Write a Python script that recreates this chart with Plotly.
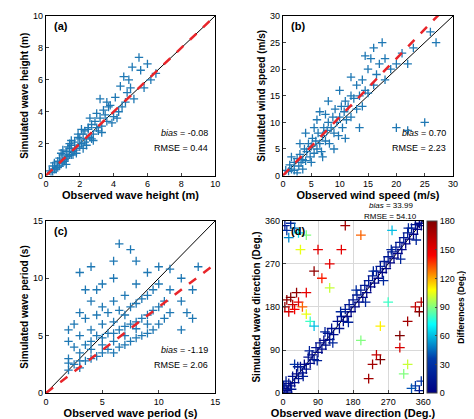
import plotly.graph_objects as go

a_points = [(0.2,0.3),(0.3,0.2),(0.4,0.6),(0.5,0.4),(0.5,0.8),(0.6,0.5),(0.7,0.9),(0.8,0.6),(0.8,1.1),(0.9,0.8),
(1.0,1.3),(1.0,0.8),(1.1,1.0),(1.2,1.5),(1.2,1.1),(1.3,1.2),(1.4,1.7),(1.4,1.3),(1.5,1.9),(1.5,1.3),
(1.6,1.5),(1.7,2.1),(1.7,1.6),(1.8,1.7),(1.9,2.4),(2.0,1.8),(2.0,2.3),(2.1,2.0),(2.2,2.6),(2.3,2.1),
(2.3,2.8),(2.4,2.3),(2.5,2.9),(2.6,2.4),(2.7,3.2),(2.8,2.6),(2.9,3.4),(3.0,3.0),(3.1,2.8),(3.2,3.6),
(3.3,3.1),(3.5,3.8),(3.6,3.4),(3.8,4.4),(4.0,3.7),(4.1,4.9),(4.3,4.0),(4.5,4.3),(4.6,6.2),(4.8,5.2),
(5.0,5.5),(5.2,4.8),(5.5,7.4),(5.8,5.5),(6.2,6.0),(6.5,6.4),(0.6,0.4),(0.9,1.4),(1.1,0.9),(1.3,1.8),
(1.6,1.3),(1.9,2.6),(2.2,1.7),(2.5,3.0),(2.8,2.2),(3.4,4.1),(3.9,3.3),(4.4,5.6),(5.1,6.8),(4.7,4.6),
(3.7,4.3),(0.4,0.2),(0.7,0.5),(1.0,1.6),(1.2,0.7),(1.5,2.2),(1.8,1.4),(2.1,2.9),(2.4,1.9),(2.7,2.3),
(3.0,3.9),(3.3,2.7),(3.6,4.6),(4.2,3.6),(5.6,6.6),(6.0,7.0),(4.9,6.0),(3.2,4.8),(2.6,3.6),(1.4,2.0)]

b_points = [(0.5,1.0),(1.0,0.8),(1.2,2.0),(1.5,1.2),(2.0,2.5),(2.0,1.0),(2.5,3.2),(2.8,1.8),(3.0,4.0),(3.2,2.5),
(3.5,3.0),(3.8,5.0),(4.0,2.8),(4.2,4.5),(4.5,6.0),(4.8,3.5),(5.0,5.5),(5.2,7.0),(5.5,4.2),(5.8,6.5),
(6.0,5.0),(6.2,8.0),(6.5,6.0),(6.8,4.5),(7.0,7.5),(7.2,9.0),(7.5,6.5),(7.8,8.5),(8.0,10.0),(8.2,6.0),
(8.5,9.0),(8.8,11.0),(9.0,8.0),(9.2,12.5),(9.5,10.0),(9.8,7.5),(10.0,11.0),(10.3,13.0),(10.5,9.0),(10.8,12.0),
(11.0,14.0),(11.2,10.5),(11.5,13.0),(12.0,15.0),(12.0,11.0),(12.5,14.5),(13.0,12.5),(13.0,17.0),(13.5,15.0),(14.0,18.0),
(14.0,13.0),(14.5,16.0),(15.0,20.0),(15.0,15.5),(15.5,22.0),(16.0,17.0),(16.0,24.0),(16.5,19.0),(17.0,21.0),(17.5,25.0),
(18.0,18.0),(18.0,22.0),(19.0,20.0),(20.0,21.0),(20.0,9.0),(21.0,23.0),(22.0,8.5),(22.0,21.0),(23.0,24.0),(25.0,10.0),
(26.0,27.0),(27.0,25.0),(1.5,3.5),(2.5,0.5),(3.0,6.0),(4.0,8.0),(5.0,2.5),(6.0,10.5),(7.0,3.5),(8.0,14.0),
(9.0,5.0),(10.0,16.0),(11.0,7.0),(12.0,18.5),(13.5,9.0),(14.5,22.5),(3.5,1.2),(5.5,9.0),(6.5,12.0),(7.5,11.5)]

c_points = [(2.0,2.0),(2.0,3.0),(2.0,4.5),(2.0,5.5),(2.5,2.5),(2.5,4.0),(2.5,6.0),(3.0,2.2),(3.0,3.5),(3.0,5.0),
(3.0,7.0),(3.0,10.5),(3.5,2.8),(3.5,4.2),(3.5,6.5),(4.0,3.0),(4.0,4.5),(4.0,5.5),(4.0,8.0),(4.0,11.0),
(4.5,3.2),(4.5,5.0),(4.5,6.8),(5.0,3.5),(5.0,4.8),(5.0,6.0),(5.0,7.5),(5.0,9.5),(5.5,3.8),(5.5,5.2),
(5.5,7.0),(6.0,3.5),(6.0,4.5),(6.0,6.2),(6.0,8.0),(6.0,10.0),(6.5,4.0),(6.5,5.5),(6.5,7.2),(6.5,13.0),
(7.0,4.2),(7.0,5.8),(7.0,6.8),(7.0,8.5),(7.5,4.5),(7.5,6.0),(7.5,7.5),(7.5,12.5),(8.0,4.8),(8.0,6.2),
(8.0,7.8),(8.0,9.5),(8.5,5.0),(8.5,6.5),(8.5,8.2),(9.0,5.2),(9.0,6.8),(9.0,8.5),(9.0,10.5),(9.5,5.5),
(9.5,7.2),(9.5,9.0),(10.0,6.0),(10.0,7.5),(10.0,9.5),(10.0,11.0),(10.5,6.5),(10.5,8.0),(11.0,7.0),(11.0,9.0),
(11.0,10.8),(12.0,5.5),(12.0,8.0),(12.0,10.0),(12.5,7.0),(13.0,6.5),(13.0,9.0),(13.5,11.0),(2.0,2.6),(3.0,2.8),
(4.0,3.8),(5.0,4.2),(6.0,5.2),(7.0,5.0),(8.0,5.6),(9.0,6.0),(3.5,9.0),(4.5,9.0),(6.0,11.5),(8.0,11.5)]

d_points = [(5,10),(10,5),(15,20),(20,15),(25,35),(30,22),(35,40),(40,30),(45,55),(50,42),
(55,60),(60,50),(65,75),(70,62),(75,80),(80,70),(85,95),(90,85),(95,105),(100,92),
(105,110),(110,100),(115,125),(120,112),(125,135),(130,122),(140,150),(145,135),(150,160),(155,150),
(160,175),(165,160),(170,185),(175,170),(180,195),(185,180),(190,205),(195,190),(200,215),(205,200),
(210,225),(215,210),(220,235),(225,222),(230,245),(235,230),(240,255),(245,240),(250,265),(255,252),
(260,275),(265,260),(270,285),(275,272),(280,295),(285,282),(290,305),(295,292),(300,315),(305,300),
(310,325),(315,312),(320,335),(325,322),(330,345),(335,332),(340,352),(345,342),(350,355),(355,350),
(5,180),(10,195),(15,170),(20,200),(25,185),(30,175),(35,210),(40,190),(50,180),(60,165),
(70,150),(80,140),(5,350),(10,340),(20,355),(30,345),(40,335),(15,325),(350,5),(340,15),
(330,10),(355,25),(320,60),(300,95),(310,40),(250,70),(240,80),(220,30),(230,60),(200,110),
(150,300),(120,270),(100,240),(90,300),(60,330),(45,300),(200,330),(160,350),(280,340),(350,170),
(355,190),(340,180),(320,150),(300,120),(270,190),(250,140),(120,220),(80,255),(60,210),(30,60),
(8,25),(22,8),(38,55),(52,35),(68,88),(88,68),(108,128),(128,105),(148,170),(168,148),
(188,215),(212,190),(232,255),(258,235),(278,300),(302,280),(322,345),(342,320),(12,2),(2,15)]

a_fit = [0.0, 1.0]   # intercept, slope
b_fit = [0.0, 1.1]
c_fit = [0.0, 0.75]
stats = [("-0.08", "0.44"), ("0.70", "2.23"), ("-1.19", "2.06"), ("33.99", "54.10")]
xlabels = ["Observed wave height (m)", "Observed wind speed (m/s)", "Observed wave period (s)", "Observed wave direction (Deg.)"]
ylabels = ["Simulated wave height (m)", "Simulated wind speed (m/s)", "Simulated wave period (s)", "Simulated wave direction (Deg.)"]
ranges = [10, 30, 15, 360]
dticks = [2, 5, 5, 90]

BLUE = "#1f78b4"
FONT = "Liberation Sans"
fig = go.Figure()
doms = [((0.080, 0.437), (0.600, 0.981)), ((0.580, 0.939), (0.600, 0.981)),
        ((0.080, 0.437), (0.081, 0.492)), ((0.580, 0.876), (0.081, 0.492))]
sets = [a_points, b_points, c_points]
fits = [a_fit, b_fit, c_fit]
for i in range(4):
    n = "" if i == 0 else str(i + 1)
    xa, ya = "x" + n, "y" + n
    R = ranges[i]
    fig.add_trace(go.Scatter(x=[0, R], y=[0, R], mode="lines", line=dict(color="black", width=1),
                             xaxis=xa, yaxis=ya, showlegend=False))
    if i < 3:
        pts = sets[i]
        fig.add_trace(go.Scatter(x=[p[0] for p in pts], y=[p[1] for p in pts], mode="markers",
                                 marker=dict(symbol="cross-thin-open", size=6, color=BLUE, line=dict(color=BLUE, width=1.3)),
                                 xaxis=xa, yaxis=ya, showlegend=False))
        b0, b1 = fits[i]
        fig.add_trace(go.Scatter(x=[0, R], y=[b0, b0 + b1 * R], mode="lines",
                                 line=dict(color="#e8252a", width=2.5, dash="dash"),
                                 xaxis=xa, yaxis=ya, showlegend=False))
    else:
        xs = [p[0] for p in d_points]
        ys = [p[1] for p in d_points]
        diff = [min(abs(x - y), 360 - abs(x - y)) for x, y in zip(xs, ys)]
        fig.add_trace(go.Scatter(x=xs, y=ys, mode="markers",
                                 marker=dict(symbol="cross-thin-open", size=7, color=diff, cmin=0, cmax=180,
                                             colorscale="Jet", line=dict(width=1.3),
                                             colorbar=dict(x=0.885, xanchor="left", y=0.081, yanchor="bottom", len=0.411,
                                                           thickness=10, tickvals=[0, 30, 60, 90, 120, 150, 180],
                                                           ticks="inside", ticklen=2,
                                                           tickfont=dict(size=9, family=FONT, color="black"),
                                                           outlinewidth=1, xpad=0, ypad=0)),
                                 xaxis=xa, yaxis=ya, showlegend=False))
    (dx, dy) = doms[i]
    common = dict(range=[0, R], dtick=dticks[i], showline=True, mirror=True, linecolor="black", linewidth=1,
                  ticks="inside", ticklen=3, zeroline=False, showgrid=(i == 3), gridcolor="#d9d9d9",
                  tickfont=dict(size=9, family=FONT, color="black"), automargin=False)
    fig.layout["xaxis" + n] = dict(common, domain=list(dx), anchor=ya,
                                   title=dict(text="<b>" + xlabels[i] + "</b>", standoff=0, font=dict(size=11, family=FONT)))
    fig.layout["yaxis" + n] = dict(common, domain=list(dy), anchor=xa,
                                   title=dict(text="<b>" + ylabels[i] + "</b>", standoff=2, font=dict(size=10, family=FONT)))
    lab = "(" + "abcd"[i] + ")"
    fig.add_annotation(xref="paper", yref="paper", x=dx[0] + 0.012, y=dy[1] - 0.005, xanchor="left", yanchor="top",
                       text="<b>" + lab + "</b>", showarrow=False, font=dict(size=11, family=FONT, color="black"))
    bs, rm = stats[i]
    if i < 3:
        fig.add_annotation(xref="paper", yref="paper", x=dx[1] - 0.01, y=dy[0] + 0.085, xanchor="right", yanchor="bottom",
                           text="<i>bias</i> = " + bs, showarrow=False, font=dict(size=9, family=FONT, color="black"))
        fig.add_annotation(xref="paper", yref="paper", x=dx[1] - 0.01, y=dy[0] + 0.05, xanchor="right", yanchor="bottom",
                           text="RMSE = " + rm, showarrow=False, font=dict(size=9, family=FONT, color="black"))
    else:
        fig.add_annotation(xref="paper", yref="paper", x=dx[1] - 0.02, y=dy[1] + 0.024, xanchor="right", yanchor="bottom",
                           text="<i>bias</i> = " + bs, showarrow=False, font=dict(size=8, family=FONT, color="black"),
                           borderpad=0)
        fig.add_annotation(xref="paper", yref="paper", x=dx[1] - 0.012, y=dy[1] - 0.002, xanchor="right", yanchor="bottom",
                           text="RMSE = " + rm, showarrow=False, font=dict(size=8, family=FONT, color="black"),
                           borderpad=0)

fig.add_annotation(xref="paper", yref="paper", x=0.955, y=(0.081 + 0.492) / 2, xanchor="center", yanchor="middle",
                   text="<b>Differences (Deg.)</b>", textangle=-90, showarrow=False,
                   font=dict(size=8.5, family=FONT, color="black"))

fig.update_layout(width=474, height=419, margin=dict(l=0, r=0, t=0, b=0),
                  plot_bgcolor="white", paper_bgcolor="white", font=dict(family=FONT, color="black"))
fig.write_html("out.html")
